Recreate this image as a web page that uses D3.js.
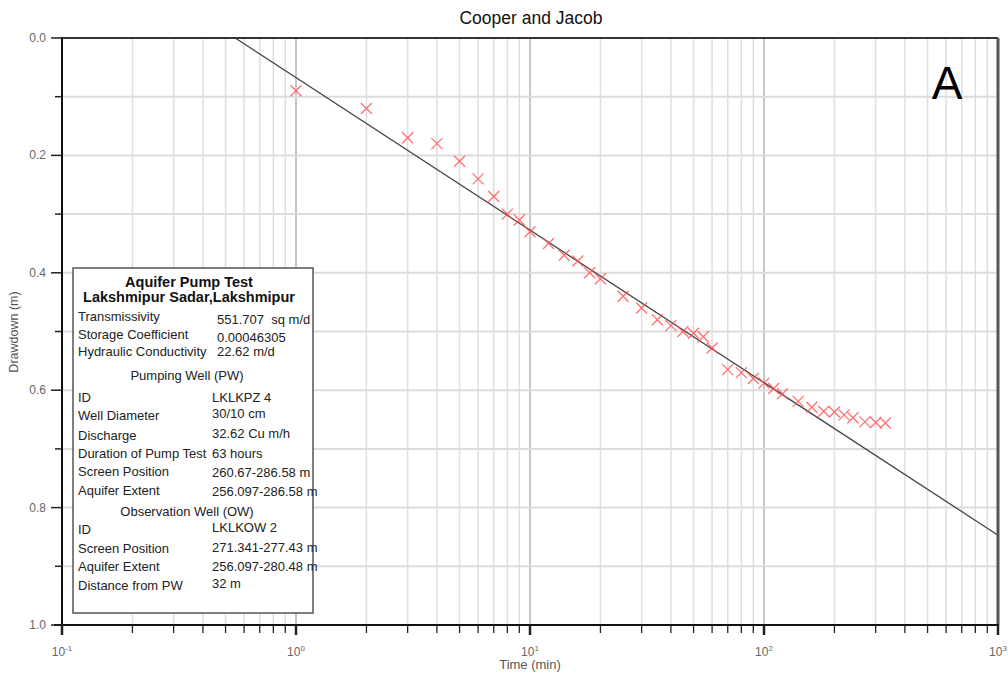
<!DOCTYPE html>
<html><head><meta charset="utf-8">
<script src="https://cdn.jsdelivr.net/npm/d3@7"></script>
<style>
html,body{margin:0;padding:0;background:#fff;}
svg{display:block;font-family:"Liberation Sans",Arial,sans-serif;}
</style></head>
<body><svg id="c" width="1008" height="680"></svg>
<script>
// ---- data ----
const timeMin = [1,2,3,4,5,6,7,8,9,10,12,14,16,18,20,25,30,35,40,45,50,55,60,70,80,90,100,110,120,140,160,180,200,220,240,270,300,330];
const drawdown = [0.09,0.12,0.17,0.18,0.21,0.24,0.27,0.30,0.31,0.33,0.35,0.37,0.38,0.40,0.41,0.44,0.46,0.48,0.49,0.50,0.503,0.509,0.528,0.565,0.57,0.58,0.588,0.597,0.606,0.619,0.629,0.636,0.637,0.642,0.647,0.654,0.655,0.656];
const fitTime = [0.55, 1000];
const fitDrawdown = [0.0, 0.847];
const xTickExp = ["-1","0","1","2","3"];
const xTickVals = [0.1,1,10,100,1000];
const yTickVals = [0,0.1,0.2,0.3,0.4,0.5,0.6,0.7,0.8,0.9,1.0];
const yLabelVals = [0,0.2,0.4,0.6,0.8,1.0];
const legendTitle = ["Aquifer Pump Test","Lakshmipur Sadar,Lakshmipur"];
const legendRows = [
  ["Transmissivity","551.707\u00a0\u00a0sq m/d"],
  ["Storage Coefficient","0.00046305"],
  ["Hydraulic Conductivity","22.62 m/d"],
  ["#Pumping Well (PW)",""],
  ["ID","LKLKPZ 4"],
  ["Well Diameter","30/10 cm"],
  ["Discharge","32.62 Cu m/h"],
  ["Duration of Pump Test","63 hours"],
  ["Screen Position","260.67-286.58 m"],
  ["Aquifer Extent","256.097-286.58 m"],
  ["#Observation Well (OW)",""],
  ["ID","LKLKOW 2"],
  ["Screen Position","271.341-277.43 m"],
  ["Aquifer Extent","256.097-280.48 m"],
  ["Distance from PW","32 m"]
];

// ---- layout ----
const svg = d3.select("#c");
const L=62,R=998,T=38,B=625;
const x = d3.scaleLog().domain([0.1,1000]).range([L,R]);
const y = d3.scaleLinear().domain([0,1]).range([T,B]);

const minor=[];
for(let e=-1;e<3;e++){for(let k=1;k<10;k++){minor.push(k*Math.pow(10,e));}}
minor.push(1000);

// grid
const g=svg.append("g");
g.selectAll("line.vg").data(minor).enter().append("line")
 .attr("x1",d=>x(d)).attr("x2",d=>x(d)).attr("y1",T).attr("y2",B)
 .attr("stroke",d=>xTickVals.includes(d)?"#c8c8c8":"#dedede")
 .attr("stroke-width",d=>xTickVals.includes(d)?2:1.5);
g.selectAll("line.hg").data(yTickVals).enter().append("line")
 .attr("x1",L).attr("x2",R).attr("y1",d=>y(d)).attr("y2",d=>y(d))
 .attr("stroke","#dcdcdc").attr("stroke-width",2);

// fit line
svg.append("path").datum(fitTime.map((t,i)=>[t,fitDrawdown[i]]))
 .attr("d",d3.line().x(d=>x(d[0])).y(d=>y(d[1])))
 .attr("fill","none").attr("stroke","#444").attr("stroke-width",1.3);

// crosses
const cs=5.5;
svg.append("g").selectAll("path").data(timeMin.map((t,i)=>[t,drawdown[i]])).enter().append("path")
 .attr("transform",d=>`translate(${x(d[0])},${y(d[1])})`)
 .attr("d",`M${-cs},${-cs}L${cs},${cs}M${-cs},${cs}L${cs},${-cs}`)
 .attr("stroke","#ff4d4d").attr("stroke-opacity",0.8).attr("stroke-width",1.3).attr("fill","none");

// frame
svg.append("line").attr("x1",L).attr("x2",R).attr("y1",T).attr("y2",T).attr("stroke","#333").attr("stroke-width",2);
svg.append("line").attr("x1",R).attr("x2",R).attr("y1",T).attr("y2",B).attr("stroke","#555").attr("stroke-width",3);
svg.append("line").attr("x1",L).attr("x2",L).attr("y1",T-1).attr("y2",B+10).attr("stroke","#111").attr("stroke-width",2);
svg.append("line").attr("x1",L-8).attr("x2",R+1).attr("y1",B).attr("y2",B).attr("stroke","#111").attr("stroke-width",2);

// y ticks
svg.selectAll("line.yt").data(yTickVals).enter().append("line")
 .attr("x1",d=>yLabelVals.some(v=>Math.abs(v-d)<1e-9)?L-11:L-7).attr("x2",L).attr("y1",d=>y(d)).attr("y2",d=>y(d))
 .attr("stroke","#222").attr("stroke-width",1.5);
svg.selectAll("text.yl").data(yLabelVals).enter().append("text")
 .attr("x",46).attr("y",d=>y(d)+4).attr("text-anchor","end")
 .attr("font-size",12).attr("fill","#666").text(d=>d.toFixed(1));

// x ticks
svg.selectAll("line.xt").data(minor).enter().append("line")
 .attr("x1",d=>x(d)).attr("x2",d=>x(d)).attr("y1",B).attr("y2",d=>xTickVals.includes(d)?B+10:B+8)
 .attr("stroke","#222").attr("stroke-width",d=>xTickVals.includes(d)?2.5:1.3);
const xl=svg.selectAll("text.xl").data(xTickVals).enter().append("text")
 .attr("x",d=>x(d)).attr("y",656).attr("text-anchor","middle")
 .attr("font-size",12).attr("fill","#666");
xl.append("tspan").text("10");
xl.append("tspan").attr("dy",-5).attr("font-size",8).text((d,i)=>xTickExp[i]);

// titles
svg.append("text").attr("x",531).attr("y",24).attr("text-anchor","middle").attr("font-size",17.5).attr("fill","#111").text("Cooper and Jacob");
svg.append("text").attr("x",530).attr("y",669).attr("text-anchor","middle").attr("font-size",13).attr("fill","#555").text("Time (min)");
svg.append("text").attr("transform","translate(18,332) rotate(-90)").attr("text-anchor","middle").attr("font-size",12.5).attr("fill","#555").text("Drawdown (m)");
svg.append("text").attr("x",947).attr("y",99).attr("text-anchor","middle").attr("font-size",46).attr("fill","#000").text("A");

// legend
const lg=svg.append("g");
lg.append("rect").attr("x",73).attr("y",268).attr("width",240).attr("height",345)
 .attr("fill","#fff").attr("stroke","#555").attr("stroke-width",1.5);
legendTitle.forEach((t,i)=>{
  lg.append("text").attr("x",189).attr("y",287+i*15).attr("text-anchor","middle")
   .attr("font-size",14.5).attr("font-weight","bold").attr("fill","#111").text(t);
});
const rowY=[321,339,356,380,402,420,440,458,476,495,516,534,553,571,590];
const valDy=[3,3,0,0,0,-2,-2,0,1,1,0,-2,-1,0,-2];
legendRows.forEach((r,i)=>{
  if(r[0].startsWith("#")){
    lg.append("text").attr("x",187).attr("y",rowY[i]).attr("text-anchor","middle")
     .attr("font-size",13).attr("fill","#222").text(r[0].slice(1));
  } else {
    lg.append("text").attr("x",78).attr("y",rowY[i]).attr("font-size",13).attr("fill","#222").text(r[0]);
    lg.append("text").attr("x",i<3?217:212).attr("y",rowY[i]+valDy[i]).attr("font-size",13).attr("fill","#222").text(r[1]);
  }
});
</script></body></html>
